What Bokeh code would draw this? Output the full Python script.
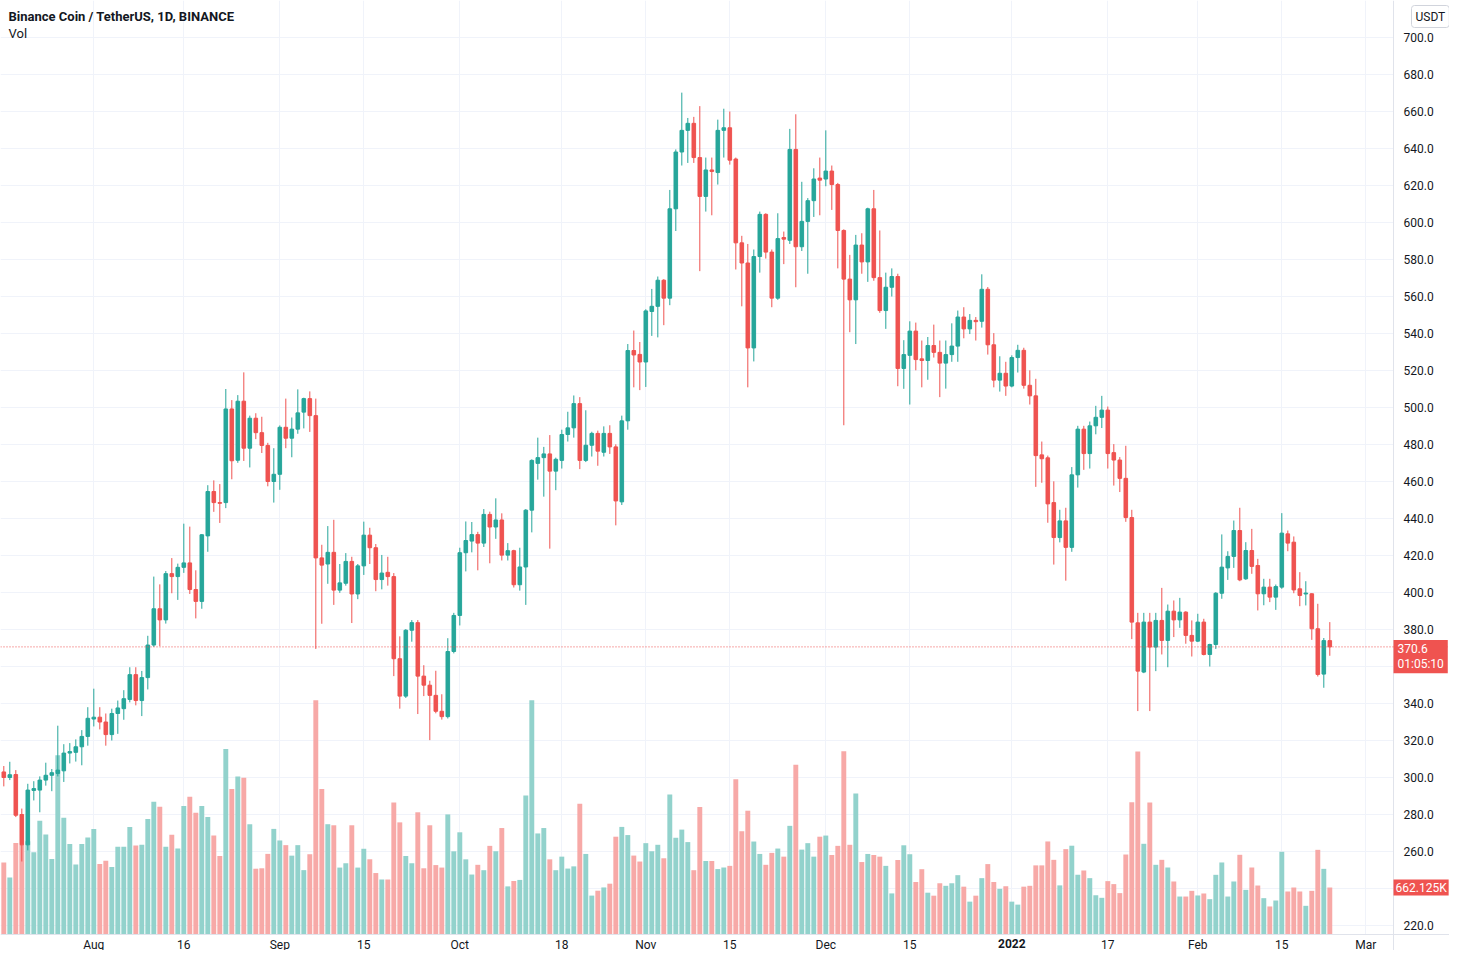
from bokeh.plotting import figure
from bokeh.models import (ColumnDataSource, Range1d, FixedTicker, Label, Span,
                          PrintfTickFormatter, LinearAxis)
from bokeh.embed import file_html
from bokeh.resources import INLINE

# ---- data: BNB/USDT daily candles, 2021-07-17 .. 2022-02-23 ----
opens = [303.0, 300.0, 301.6, 280.0, 263.6, 293.0, 293.2, 298.6, 301.2, 302.2,
         303.6, 313.2, 313.6, 316.6, 322.2, 331.6, 332.6, 330.0, 323.2, 334.6,
         337.2, 342.2, 355.6, 341.6, 354.0, 371.6, 391.2, 385.2, 410.2, 408.6,
         413.6, 416.0, 401.6, 395.2, 430.6, 454.6, 448.6, 448.6, 499.2, 471.5,
         503.4, 478.0, 494.2, 486.4, 479.5, 460.0, 463.9, 489.3, 483.4, 488.3,
         497.5, 504.8, 495.6, 418.7, 415.4, 421.7, 401.3, 405.0, 416.8, 399.2,
         414.4, 431.0, 424.2, 407.0, 410.9, 408.6, 364.2, 344.0, 379.6, 383.7,
         354.8, 349.9, 344.4, 335.8, 332.9, 368.1, 387.6, 421.5, 427.8, 431.3,
         426.7, 442.2, 435.4, 439.2, 420.2, 422.6, 404.2, 413.8, 444.5, 469.8,
         472.9, 474.9, 465.6, 471.4, 485.4, 489.0, 502.1, 471.4, 479.6, 486.0,
         475.8, 486.0, 478.7, 449.0, 492.8, 530.8, 528.7, 524.6, 551.9, 554.7,
         568.8, 559.1, 607.4, 638.1, 649.8, 653.6, 635.1, 614.1, 628.4, 627.0,
         649.8, 651.2, 634.3, 589.0, 578.1, 532.2, 581.6, 604.4, 584.0, 559.1,
         591.9, 590.4, 639.5, 586.9, 600.6, 611.8, 624.0, 623.5, 627.8, 620.5,
         595.7, 569.4, 558.2, 587.8, 578.7, 607.4, 570.2, 552.4, 565.0, 570.8,
         521.1, 528.2, 541.3, 526.3, 525.4, 533.5, 529.8, 524.0, 528.6, 533.2,
         548.9, 542.5, 547.1, 546.6, 563.9, 533.9, 514.8, 518.5, 511.6, 527.0,
         530.9, 512.0, 506.3, 474.4, 472.8, 448.6, 429.7, 438.7, 424.4, 463.6,
         488.3, 475.1, 490.1, 494.7, 498.6, 475.6, 471.6, 461.7, 440.5, 383.6,
         357.0, 384.0, 370.5, 384.9, 374.1, 389.9, 385.2, 389.4, 376.8, 373.7,
         384.0, 366.5, 371.9, 399.6, 413.3, 419.5, 433.5, 407.4, 422.7, 414.6,
         399.3, 402.9, 397.5, 402.9, 431.7, 427.2, 402.0, 399.2, 399.3, 380.4,
         355.9, 374.0]
highs = [306.2, 308.5, 304.0, 283.2, 296.6, 298.0, 300.6, 308.0, 304.6, 328.0,
         318.0, 318.6, 320.6, 325.6, 338.0, 348.0, 338.0, 334.6, 337.2, 341.6,
         347.2, 359.6, 359.6, 357.6, 376.6, 408.6, 404.4, 411.6, 418.6, 415.6,
         437.2, 435.6, 412.0, 431.6, 458.0, 460.6, 458.6, 510.0, 504.0, 506.7,
         519.0, 495.6, 496.9, 495.0, 480.9, 478.0, 490.3, 504.8, 494.6, 509.8,
         505.3, 508.7, 504.8, 425.8, 435.9, 439.3, 415.4, 421.3, 419.3, 415.4,
         438.3, 435.0, 426.2, 420.3, 419.3, 410.5, 376.3, 380.2, 385.1, 385.1,
         360.7, 352.3, 357.7, 345.0, 375.3, 389.0, 424.2, 438.4, 438.1, 432.8,
         445.1, 443.7, 450.9, 442.8, 426.7, 423.1, 424.2, 445.1, 472.0, 483.7,
         478.7, 485.1, 472.9, 488.0, 497.7, 506.5, 505.6, 498.5, 486.9, 487.5,
         489.8, 490.4, 480.1, 495.6, 534.3, 541.6, 535.4, 553.1, 564.1, 570.8,
         569.4, 617.6, 639.5, 670.2, 656.5, 657.1, 662.9, 635.1, 635.1, 655.6,
         661.5, 660.0, 635.1, 592.8, 588.4, 585.4, 605.9, 605.0, 585.4, 605.0,
         595.1, 650.6, 658.5, 622.0, 613.2, 629.3, 635.1, 649.8, 630.8, 621.4,
         596.3, 582.5, 593.3, 594.2, 608.0, 617.6, 595.7, 572.9, 575.2, 572.3,
         536.4, 546.6, 545.9, 536.2, 538.1, 544.8, 536.2, 536.2, 545.5, 552.4,
         554.2, 550.5, 548.9, 572.0, 565.1, 540.2, 527.7, 524.7, 528.2, 533.9,
         532.3, 520.1, 515.5, 481.6, 474.0, 460.1, 444.7, 445.8, 467.8, 490.1,
         490.1, 492.4, 500.9, 506.3, 500.5, 480.2, 473.2, 479.3, 444.7, 389.0,
         389.0, 389.0, 389.0, 402.5, 393.5, 395.7, 397.1, 389.9, 384.9, 388.5,
         385.8, 372.3, 400.2, 431.4, 422.3, 438.9, 445.8, 427.2, 434.4, 418.2,
         407.4, 407.4, 404.3, 442.9, 433.5, 430.3, 411.0, 406.1, 399.6, 393.9,
         375.4, 384.0]
lows = [295.2, 298.6, 278.6, 254.6, 260.6, 287.6, 281.2, 295.6, 292.6, 300.6,
        297.6, 307.6, 308.6, 306.6, 317.2, 327.6, 326.0, 317.2, 320.0, 323.6,
        331.2, 340.6, 339.0, 333.2, 347.6, 370.6, 371.0, 383.2, 399.6, 396.0,
        410.6, 399.2, 386.0, 391.2, 422.0, 443.6, 437.6, 445.6, 461.2, 470.1,
        471.1, 467.6, 482.9, 475.4, 457.4, 448.6, 455.5, 478.0, 473.1, 485.8,
        488.7, 486.8, 369.5, 383.1, 404.7, 393.3, 399.8, 403.7, 383.5, 396.4,
        409.5, 415.4, 400.7, 401.7, 403.7, 354.8, 337.2, 343.0, 373.4, 334.3,
        344.0, 320.2, 334.7, 331.3, 331.9, 367.1, 382.2, 411.4, 421.7, 412.0,
        424.6, 415.8, 429.0, 417.3, 417.3, 402.7, 401.0, 393.3, 432.5, 461.0,
        451.8, 423.7, 455.3, 467.0, 481.6, 483.7, 466.7, 470.5, 473.5, 468.5,
        473.5, 474.9, 436.3, 447.3, 488.0, 510.9, 509.4, 511.1, 538.7, 537.9,
        544.5, 555.3, 595.4, 630.8, 632.2, 632.2, 573.7, 605.9, 603.9, 620.5,
        635.1, 631.3, 574.6, 554.7, 510.9, 524.9, 572.9, 580.5, 554.2, 558.2,
        577.5, 588.4, 565.0, 584.6, 572.3, 603.0, 603.9, 619.6, 606.8, 575.2,
        490.4, 540.7, 534.3, 572.3, 567.9, 568.5, 551.2, 542.5, 560.0, 511.5,
        510.1, 501.6, 520.1, 510.9, 515.0, 527.0, 505.6, 510.2, 524.7, 524.7,
        537.4, 539.7, 536.2, 543.2, 528.6, 510.9, 508.6, 506.3, 510.9, 518.9,
        510.2, 501.6, 457.1, 459.3, 437.7, 415.1, 427.1, 406.4, 422.0, 456.7,
        466.3, 467.0, 485.5, 488.9, 467.0, 457.8, 454.3, 438.2, 374.8, 335.9,
        356.4, 335.9, 357.5, 366.5, 359.6, 375.9, 380.9, 372.3, 365.4, 373.2,
        366.0, 360.0, 369.5, 396.6, 406.8, 413.3, 406.1, 406.8, 410.1, 390.3,
        393.1, 394.8, 390.6, 402.0, 422.3, 399.6, 392.6, 393.0, 374.4, 354.6,
        348.5, 365.8]
closes = [300.0, 301.5, 279.6, 263.6, 293.2, 294.0, 298.6, 301.2, 302.6, 304.0,
          313.2, 314.0, 316.6, 322.2, 332.0, 332.6, 330.0, 323.2, 334.6, 337.6,
          342.6, 355.6, 341.6, 354.0, 371.6, 391.2, 385.2, 410.2, 408.6, 413.6,
          416.0, 401.6, 395.2, 431.2, 454.6, 448.6, 448.2, 499.2, 471.2, 503.4,
          478.0, 494.2, 486.4, 479.5, 460.0, 463.9, 489.3, 483.4, 488.3, 497.1,
          504.8, 495.6, 418.7, 414.8, 421.7, 401.3, 405.2, 416.8, 399.2, 414.4,
          431.0, 424.2, 407.0, 410.5, 408.6, 364.2, 344.0, 379.6, 383.7, 354.8,
          349.9, 344.4, 335.8, 332.9, 368.1, 387.6, 421.5, 428.1, 431.3, 426.7,
          442.2, 435.4, 439.2, 420.2, 422.6, 404.2, 413.8, 444.5, 471.4, 472.9,
          474.9, 465.6, 472.0, 485.4, 489.0, 502.1, 471.4, 479.6, 486.0, 476.4,
          486.0, 478.7, 449.5, 492.8, 530.8, 528.4, 524.6, 552.2, 554.7, 568.8,
          559.1, 607.4, 638.1, 649.8, 653.6, 635.1, 614.1, 628.4, 627.6, 649.8,
          651.2, 633.7, 589.0, 578.1, 532.2, 581.6, 604.4, 584.0, 559.1, 591.3,
          591.0, 639.5, 586.9, 600.6, 611.8, 623.5, 622.9, 627.8, 620.5, 595.7,
          569.4, 558.2, 587.8, 578.7, 607.4, 570.2, 552.4, 565.0, 570.8, 521.1,
          528.6, 541.3, 525.9, 525.4, 533.5, 529.8, 524.0, 528.6, 533.2, 548.9,
          542.5, 547.1, 546.4, 563.9, 533.9, 514.8, 518.5, 511.6, 527.0, 530.9,
          512.0, 506.3, 474.0, 472.3, 447.9, 429.7, 438.7, 424.4, 463.6, 488.3,
          475.1, 490.1, 494.7, 498.6, 475.1, 471.6, 461.7, 440.5, 384.0, 357.5,
          384.0, 370.5, 384.9, 374.1, 389.9, 385.2, 389.4, 376.8, 373.7, 384.0,
          366.5, 371.9, 399.6, 413.7, 419.5, 433.5, 406.8, 422.7, 414.1, 399.3,
          402.9, 397.5, 403.2, 432.1, 426.7, 401.4, 398.4, 399.7, 380.4, 355.7,
          374.0, 370.6]
volumes_k = [1013, 804, 1289, 1263, 1315, 1159, 1603, 1409, 1065, 2526,
             1644, 1274, 987, 1274, 1368, 1488, 992, 1039, 950, 1237,
             1237, 1514, 1253, 1263, 1629, 1869, 1801, 1237, 1404, 1211,
             1811, 1942, 1717, 1811, 1655, 1394, 1107, 2615, 2050, 2227,
             2207, 1554, 927, 933, 1136, 1488, 1325, 1259, 1111, 1259,
             907, 1131, 3302, 2049, 1554, 1539, 943, 1004, 1539, 943,
             1208, 1060, 866, 775, 775, 1860, 1580, 1106, 1004, 1722,
             933, 1539, 978, 943, 1692, 1172, 1440, 1059, 845, 982,
             906, 1249, 1173, 1500, 678, 754, 769, 1957, 3300, 1424,
             1500, 1059, 906, 1097, 929, 960, 1843, 1135, 548, 617,
             663, 716, 1378, 1516, 1401, 1112, 1028, 1287, 1173, 1264,
             1074, 1973, 1363, 1478, 1302, 906, 1797, 1036, 1036, 922,
             944, 967, 2186, 1455, 1744, 1310, 1135, 982, 1150, 1211,
             1097, 1531, 2391, 1196, 1287, 1097, 1378, 1394, 1120, 1249,
             2582, 1264, 1988, 1021, 1135, 1120, 1097, 967, 579, 1050,
             1257, 1131, 740, 920, 589, 547, 722, 686, 722, 836,
             674, 463, 547, 794, 992, 740, 643, 680, 463, 421,
             674, 686, 974, 974, 1311, 1052, 692, 1203, 1251, 842,
             902, 794, 553, 517, 752, 710, 583, 1127, 1862, 2579,
             1278, 1860, 982, 1052, 944, 747, 535, 535, 615, 550,
             578, 498, 841, 1015, 535, 747, 1123, 629, 944, 690,
             512, 395, 479, 1165, 606, 662, 606, 404, 615, 1193,
             925, 662.125]

# time-axis ticks: day index (0 = 2021-07-17) and their labels
date_ticks = [15, 30, 46, 60, 76, 93, 107, 121, 137, 151, 168, 184, 199, 213, 227]
date_labels = ["Aug", "16", "Sep", "15", "Oct", "18", "Nov", "15", "Dec", "15",
               "2022", "17", "Feb", "15", "Mar"]
price_ticks = [220, 240, 260, 280, 300, 320, 340, 360, 380, 400, 420, 440, 460,
               480, 500, 520, 540, 560, 580, 600, 620, 640, 660, 680, 700]
last_price = 370.6
countdown = "01:05:10"
last_volume = "662.125K"
title_text = "Binance Coin / TetherUS, 1D, BINANCE"

UP = "#26a69a"
DOWN = "#ef5350"
UP_VOL = "#92d2cc"
DOWN_VOL = "#f7a9a7"
FONT = "Roboto"
TXT = "#131722"
GRID = "#f0f3fa"
SEP = "#e0e3eb"

# ---- layout geometry (pixels) ----
W, H = 1449, 950            # whole canvas = plot frame
CHART_R = 1393              # right edge of the candle pane (price scale to its right)
CHART_B = 934               # bottom edge of the candle pane (time scale below it)
PX_PER_DAY = 6.0
PX_PER_USD = 1.85
Y_TOP = 720.0               # price at the top edge
K_PER_PX = 14.09            # volume (thousands) per pixel

x0 = -0.55
x_end = x0 + W / PX_PER_DAY
x_chart_end = x0 + CHART_R / PX_PER_DAY
y_bottom = Y_TOP - H / PX_PER_USD
y_chart_bottom = Y_TOP - CHART_B / PX_PER_USD

n = len(closes)
idx = list(range(n))
is_up = [c >= o for o, c in zip(opens, closes)]
src = ColumnDataSource(dict(
    x=idx, o=opens, h=highs, l=lows, c=closes, v=volumes_k,
    top=[max(o, c) for o, c in zip(opens, closes)],
    bot=[min(o, c) for o, c in zip(opens, closes)],
    col=[UP if u else DOWN for u in is_up],
    vcol=[UP_VOL if u else DOWN_VOL for u in is_up],
))

p = figure(frame_width=W, frame_height=H,
           x_range=Range1d(x0, x_end), y_range=Range1d(y_bottom, Y_TOP),
           output_backend="svg", toolbar_location=None,
           x_axis_location=None, y_axis_location=None,
           min_border_left=0, min_border_top=0, min_border_right=0, min_border_bottom=0,
           background_fill_color="white", border_fill_color="white",
           outline_line_color=None)

p.extra_y_ranges = {"vol": Range1d(-(H - CHART_B) * K_PER_PX, CHART_B * K_PER_PX)}

# grid
p.xgrid.ticker = FixedTicker(ticks=date_ticks)
p.ygrid.ticker = FixedTicker(ticks=price_ticks)
p.xgrid.grid_line_color = GRID
p.ygrid.grid_line_color = GRID

# white scale areas (hide grid lines under the price and time scales)
p.quad(left=[x_chart_end], right=[x_end + 5], bottom=[y_bottom - 50], top=[Y_TOP + 50],
       fill_color="white", line_color=None)
p.quad(left=[x0 - 5], right=[x_end + 5], bottom=[y_bottom - 50], top=[y_chart_bottom],
       fill_color="white", line_color=None)

# volume
p.vbar(x="x", top="v", bottom=0, width=0.82, fill_color="vcol", line_color=None,
       y_range_name="vol", source=src)

# candles
p.segment(x0="x", y0="l", x1="x", y1="h", line_color="col", line_width=1, source=src)
p.vbar(x="x", top="top", bottom="bot", width=0.6, fill_color="col", line_color="col",
       line_width=1, source=src)

p.add_layout(Span(location=last_price, dimension="width", line_color=DOWN,
                  line_dash="1 2", line_width=1))

# price scale (right) and time scale (bottom), pinned at the pane edges
yax = LinearAxis(fixed_location=x_chart_end, ticker=FixedTicker(ticks=price_ticks),
                 formatter=PrintfTickFormatter(format="%.1f"))
xax = LinearAxis(fixed_location=y_chart_bottom, ticker=FixedTicker(ticks=date_ticks),
                 major_label_overrides={t: (lab if lab != "2022" else "")
                                        for t, lab in zip(date_ticks, date_labels)})
for ax in (xax, yax):
    ax.axis_line_color = SEP
    ax.major_tick_line_color = None
    ax.minor_tick_line_color = None
    ax.major_tick_out = 0
    ax.major_tick_in = 0
    ax.major_label_text_font = FONT
    ax.major_label_text_font_size = "12px"
    ax.major_label_text_color = TXT
yax.major_label_standoff = 10
xax.major_label_standoff = 3
p.add_layout(yax, "right")
p.add_layout(xax, "below")

# bold year label on the time axis
p.add_layout(Label(x=168, y=H - 943, x_units="data", y_units="screen", text="2022",
                   text_font=FONT, text_font_size="12px", text_font_style="bold",
                   text_color=TXT, text_align="center", text_baseline="middle"))

# legend texts
p.add_layout(Label(x=8, y=H - 16, x_units="screen", y_units="screen", text=title_text,
                   text_font=FONT, text_font_size="13px", text_font_style="bold",
                   text_color=TXT, text_baseline="middle"))
p.add_layout(Label(x=8, y=H - 33, x_units="screen", y_units="screen", text="Vol",
                   text_font=FONT, text_font_size="13px", text_color=TXT,
                   text_baseline="middle"))

# price scale badges (padding tuple = (horizontal, vertical))
p.add_layout(Label(x=1411, y=H - 16, x_units="screen", y_units="screen", text="USDT",
                   text_font=FONT, text_font_size="12px", text_color=TXT,
                   text_baseline="middle", background_fill_color="white",
                   border_line_color="#d1d4dc", padding=4, border_radius=3))
p.add_layout(Label(x=CHART_R, y=last_price, y_offset=7, x_units="screen", y_units="data",
                   text=f"{last_price:.1f}\n{countdown}", text_line_height=1.1,
                   text_font=FONT, text_font_size="12px", text_color="white",
                   text_baseline="top", background_fill_color=DOWN,
                   padding=(4, 2)))
p.add_layout(Label(x=CHART_R, y=H - (CHART_B - 662.125 / K_PER_PX), x_units="screen",
                   y_units="screen", text=last_volume, text_line_height=1.1,
                   text_font=FONT, text_font_size="12px", text_color="white",
                   text_baseline="middle", background_fill_color=DOWN,
                   padding=(2, 1)))

open("out.html", "w").write(file_html(p, INLINE))
